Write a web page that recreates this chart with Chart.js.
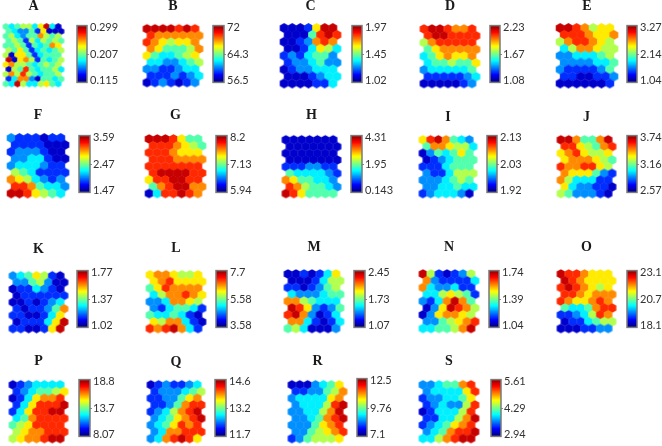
<!DOCTYPE html>
<html>
<head>
<meta charset="utf-8">
<title>SOM component planes</title>
<script src="https://cdn.jsdelivr.net/npm/chart.js@4/dist/chart.umd.min.js"></script>
<style>
  html, body { margin: 0; padding: 0; background: #fff; }
  #page { position: relative; width: 662px; height: 446px; overflow: hidden; }
  canvas { position: absolute; filter: blur(0.45px); }
</style>
</head>
<body>
<div id="page"></div>
<script>
// Each map is read row by row from the top, as a position on the colour bar (0 = navy ... 9 = dark red)
const levelsA = [
  4,3,4,5,5,3,6,9,3,0,
  4,3,2,2,4,1,6,0,0,0,
  4,5,3,2,4,4,7,5,4,5,
  4,5,4,1,5,3,5,4,5,4,
  4,4,5,4,1,4,3,4,7,6,
  5,4,6,4,1,3,4,3,4,5,
  5,0,6,6,4,1,3,4,4,4,
  9,0,6,7,5,1,4,3,4,5,
  6,7,5,5,4,3,4,5,4,5,
  0,5,4,8,4,3,4,4,5,3,
  5,7,5,8,5,4,3,4,4,5,
  1,3,7,7,2,0,4,4,3,4,
  4,3,9,5,3,3,5,6,4,3
];
const levelsB = [
  9,9,9,9,8,9,8,
  8,7,7,7,7,7,7,
  8,7,6,5,6,6,7,
  7,6,4,4,4,5,7,
  6,4,3,3,4,5,6,
  3,3,2,2,3,4,5,
  2,2,1,1,2,3,3,
  1,1,1,2,1,2,3,
  0,1,2,1,0,1,2
];
const levelsC = [
  0,0,0,1,6,9,9,
  0,0,0,4,8,9,8,
  0,0,1,2,7,8,7,
  0,0,1,3,6,5,3,
  1,2,1,3,4,4,2,
  1,2,2,3,4,2,2,
  0,1,2,2,3,3,3,
  0,0,0,1,2,3,3,
  0,0,0,0,1,1,3
];
const levelsD = [
  8,9,9,8,7,7,8,
  8,9,9,8,8,8,8,
  5,7,8,8,8,8,8,
  4,6,7,7,7,7,7,
  3,4,6,7,6,6,7,
  3,4,4,5,4,4,6,
  2,3,3,3,3,3,4,
  1,1,1,1,1,2,3,
  0,0,0,0,0,1,2
];
const levelsE = [
  9,9,8,7,5,6,6,
  8,8,8,7,6,6,7,
  5,7,8,8,7,6,5,
  3,5,7,7,6,5,5,
  2,2,3,3,3,4,5,
  2,2,2,2,3,3,4,
  2,1,1,1,1,2,4,
  1,1,0,0,1,1,2,
  0,0,0,0,0,0,1
];
const levelsF = [
  2,1,1,1,0,1,1,
  1,1,1,1,0,0,0,
  1,2,2,2,1,0,0,
  2,2,3,3,1,0,0,
  2,3,3,3,2,1,1,
  5,4,3,1,1,1,1,
  7,6,5,3,2,1,2,
  8,8,7,4,3,3,2,
  9,9,8,6,5,4,3
];
const levelsG = [
  9,9,9,8,6,4,4,
  8,8,8,7,6,5,4,
  8,8,8,7,6,6,6,
  8,8,8,7,7,7,7,
  8,8,8,8,8,8,8,
  8,9,9,9,9,8,8,
  6,8,8,9,9,8,8,
  4,7,8,9,9,7,7,
  0,3,8,8,9,8,7
];
const levelsH = [
  0,0,0,0,0,0,0,
  0,0,0,0,0,0,0,
  0,0,0,0,0,0,0,
  0,0,0,0,0,0,0,
  1,1,1,2,2,1,1,
  4,3,3,3,3,2,1,
  7,6,4,4,3,3,2,
  8,7,5,4,4,3,2,
  9,8,6,4,4,4,4
];
const levelsI = [
  6,8,9,7,4,3,2,
  4,7,7,6,5,5,3,
  0,2,4,3,4,6,4,
  0,1,2,3,4,4,4,
  1,1,1,3,4,4,4,
  2,1,1,3,5,5,5,
  2,2,2,3,4,5,4,
  2,2,3,3,4,3,3,
  1,2,3,3,3,2,0
];
const levelsJ = [
  9,9,7,4,4,7,9,
  8,8,6,5,4,7,8,
  6,7,8,6,5,5,6,
  6,7,7,7,6,5,4,
  8,7,7,8,8,6,5,
  7,6,6,6,4,2,1,
  7,5,3,3,3,1,1,
  6,3,2,2,1,1,0,
  5,4,2,2,2,1,0
];
const levelsK = [
  2,3,4,6,5,1,0,
  2,2,4,5,2,0,0,
  0,1,1,3,2,1,0,
  0,1,1,1,1,1,1,
  0,0,1,0,1,2,3,
  1,0,1,1,2,4,7,
  1,1,0,0,1,3,6,
  0,1,1,1,3,6,9,
  1,1,0,0,1,6,9
];
const levelsL = [
  6,7,7,6,5,5,6,
  6,7,8,6,6,6,6,
  4,6,8,7,7,7,7,
  3,5,7,7,8,7,6,
  2,2,3,7,7,6,5,
  2,1,3,4,4,3,1,
  4,3,3,4,3,1,0,
  6,5,7,7,3,1,0,
  8,7,8,9,7,3,1
];
const levelsM = [
  0,0,1,0,1,3,6,
  0,0,0,1,3,5,5,
  1,1,0,1,2,4,5,
  3,2,2,2,3,4,4,
  7,7,5,4,3,3,3,
  9,8,6,2,1,2,4,
  8,9,7,2,0,1,3,
  7,7,3,1,0,1,3,
  4,5,3,0,0,0,2
];
const levelsN = [
  9,5,1,0,1,2,5,
  7,2,1,1,1,1,3,
  7,3,2,2,3,1,1,
  3,3,5,6,5,4,1,
  2,1,3,7,9,7,4,
  0,2,6,9,8,7,5,
  0,2,6,7,7,6,5,
  2,2,4,5,6,7,8,
  3,3,4,4,5,7,9
];
const levelsO = [
  9,8,8,7,6,6,6,
  9,8,7,6,6,6,6,
  8,9,8,7,6,5,6,
  8,8,7,6,7,7,7,
  8,7,6,6,7,8,7,
  4,3,3,4,7,8,8,
  1,1,2,3,5,8,7,
  0,1,1,3,4,5,5,
  0,0,0,1,1,2,2
];
const levelsP = [
  0,1,2,3,3,3,3,
  1,2,3,4,4,5,6,
  0,1,3,6,7,7,8,
  1,3,6,8,8,8,9,
  1,3,6,8,8,9,9,
  3,4,7,8,8,8,8,
  4,5,6,8,8,8,8,
  5,6,7,7,8,8,8,
  5,6,7,7,8,9,9
];
const levelsQ = [
  0,1,2,1,1,2,3,
  1,2,2,2,3,4,5,
  1,1,2,2,4,6,7,
  1,1,2,4,7,8,8,
  1,2,3,5,7,8,9,
  2,3,4,6,7,8,9,
  2,3,4,6,8,7,8,
  2,3,7,7,8,8,8,
  2,3,7,8,9,8,6
];
const levelsR = [
  0,0,0,2,3,4,6,
  1,1,2,2,4,5,7,
  2,3,3,3,3,6,7,
  2,3,3,3,5,8,9,
  2,2,3,3,5,7,9,
  2,2,3,4,7,8,9,
  2,2,2,4,6,7,8,
  2,2,4,5,6,7,8,
  1,2,4,5,5,5,6
];
const levelsS = [
  2,2,3,4,4,7,8,
  2,3,3,3,3,6,8,
  1,2,2,3,3,4,6,
  1,2,3,2,2,5,8,
  0,1,3,3,3,5,8,
  1,1,3,3,5,7,9,
  1,2,3,4,6,7,8,
  2,3,4,7,8,8,9,
  3,3,5,7,8,9,9
];

// colour bar labels, top / middle / bottom
const ticksA = ["0.299", "0.207", "0.115"];
const ticksB = ["72", "64.3", "56.5"];
const ticksC = ["1.97", "1.45", "1.02"];
const ticksD = ["2.23", "1.67", "1.08"];
const ticksE = ["3.27", "2.14", "1.04"];
const ticksF = ["3.59", "2.47", "1.47"];
const ticksG = ["8.2", "7.13", "5.94"];
const ticksH = ["4.31", "1.95", "0.143"];
const ticksI = ["2.13", "2.03", "1.92"];
const ticksJ = ["3.74", "3.16", "2.57"];
const ticksK = ["1.77", "1.37", "1.02"];
const ticksL = ["7.7", "5.58", "3.58"];
const ticksM = ["2.45", "1.73", "1.07"];
const ticksN = ["1.74", "1.39", "1.04"];
const ticksO = ["23.1", "20.7", "18.1"];
const ticksP = ["18.8", "13.7", "8.07"];
const ticksQ = ["14.6", "13.2", "11.7"];
const ticksR = ["12.5", "9.76", "7.1"];
const ticksS = ["5.61", "4.29", "2.94"];

// layout: [letter, levels, ticks, cols, hexLeft, hexRight, hexTop, hexBottom, barLeft, barRight, barTop, barBottom, titleY]
const layout = [
  ["A", levelsA, ticksA, 10, 3, 64, 23, 87, 77, 87, 20, 88, 6],
  ["B", levelsB, ticksB, 7, 143, 203, 24, 87, 213, 224, 20, 88, 6],
  ["C", levelsC, ticksC, 7, 280, 341, 23, 88, 352, 362, 20, 88, 6],
  ["D", levelsD, ticksD, 7, 420, 480, 24, 88, 490, 500, 20, 88, 6],
  ["E", levelsE, ticksE, 7, 556, 618, 23, 88, 627, 637, 20, 88, 6],
  ["F", levelsF, ticksF, 7, 7, 69, 133, 198, 79, 90, 130, 198, 115],
  ["G", levelsG, ticksG, 7, 145, 206, 134, 198, 216, 227, 130, 198, 115],
  ["H", levelsH, ticksH, 7, 282, 341, 135, 198, 351, 362, 130, 198, 115],
  ["I", levelsI, ticksI, 7, 419, 477, 135, 198, 487, 497, 130, 198, 117],
  ["J", levelsJ, ticksJ, 7, 557, 616, 135, 198, 627, 637, 130, 198, 117],
  ["K", levelsK, ticksK, 7, 9, 68, 271, 333, 77, 88, 265, 333, 249],
  ["L", levelsL, ticksL, 7, 146, 206, 270, 333, 216, 227, 265, 333, 248],
  ["M", levelsM, ticksM, 7, 284, 344, 269, 333, 354, 365, 265, 333, 247],
  ["N", levelsN, ticksN, 7, 419, 479, 269, 333, 489, 499, 265, 333, 247],
  ["O", levelsO, ticksO, 7, 557, 616, 269, 333, 627, 637, 265, 333, 247],
  ["P", levelsP, ticksP, 7, 9, 68, 380, 443, 79, 90, 374, 442, 361],
  ["Q", levelsQ, ticksQ, 7, 147, 205, 380, 443, 215, 226, 374, 442, 362],
  ["R", levelsR, ticksR, 7, 288, 347, 380, 443, 357, 367, 373, 442, 361],
  ["S", levelsS, ticksS, 7, 419, 479, 380, 443, 491, 501, 374, 442, 361]
];

const page = document.getElementById("page");
const barSlices = 64;
const labelFont = { family: "Lato", size: 11 };

// matlab style jet colour map, t in 0..1
function jet(t) {
  const part = c => Math.round(255 * Math.max(0, Math.min(1, 1.5 - Math.abs(4 * t - c))));
  return "rgb(" + part(3) + "," + part(2) + "," + part(1) + ")";
}

// hexagon sprite used as the point style
function hexSprite(color, w, h) {
  const c = document.createElement("canvas");
  c.width = Math.ceil(w) + 4;
  c.height = Math.ceil(h) + 4;
  const g = c.getContext("2d");
  g.translate(c.width / 2, c.height / 2);
  g.beginPath();
  g.moveTo(0, -h / 2);
  g.lineTo(w / 2, -h / 4);
  g.lineTo(w / 2, h / 4);
  g.lineTo(0, h / 2);
  g.lineTo(-w / 2, h / 4);
  g.lineTo(-w / 2, -h / 4);
  g.closePath();
  g.fillStyle = color;
  g.fill();
  return c;
}

function addCanvas(left, top, width, height) {
  const c = document.createElement("canvas");
  c.width = width;
  c.height = height;
  c.style.left = left + "px";
  c.style.top = top + "px";
  page.appendChild(c);
  return c;
}

function drawMap(p) {
  const [letter, levels, , cols, hexLeft, hexRight, hexTop, hexBottom, , , , , titleY] = p;
  const rows = levels.length / cols;
  const hexW = (hexRight - hexLeft) / (cols + 0.5);
  const hexH = (hexBottom - hexTop) / (rows + 1 / 3) / 0.75;
  const points = levels.map((level, i) => {
    const row = Math.floor(i / cols);
    return { x: i % cols + (row % 2 ? 0.5 : 0), y: row };
  });
  const titleLine = 14 * 1.2;
  const canvasTop = titleY - titleLine / 2;
  const canvas = addCanvas(hexLeft - 3, canvasTop, hexRight - hexLeft + 6, hexBottom + 3 - canvasTop);
  new Chart(canvas, {
    type: "scatter",
    data: {
      datasets: [{
        data: points,
        clip: false,
        pointRadius: 4,
        pointStyle: levels.map(level => hexSprite(jet(0.075 + level * 0.095), hexW + 0.6, hexH + 0.6))
      }]
    },
    options: {
      responsive: false,
      animation: false,
      layout: { autoPadding: false, padding: { left: 3, right: 3, bottom: 3 } },
      plugins: {
        legend: { display: false },
        tooltip: { enabled: false },
        title: {
          display: true,
          text: letter,
          color: "#1a1a1a",
          font: { family: "Liberation Serif", size: 14, weight: "bold" },
          padding: { top: 0, bottom: hexTop - canvasTop - titleLine }
        }
      },
      scales: {
        x: { type: "linear", display: false, min: -0.5, max: cols },
        y: { type: "linear", display: false, reverse: true, min: -2 / 3, max: rows - 1 / 3 }
      }
    }
  });
}

// grey frame of the colour bar
const barFrame = {
  id: "barFrame",
  afterDatasetsDraw(chart) {
    const { left, top, width, height } = chart.chartArea;
    const g = chart.ctx;
    g.save();
    g.strokeStyle = "#7a7a7a";
    g.lineWidth = 1.5;
    g.strokeRect(left, top, width, height);
    g.restore();
  }
};

function drawBar(p) {
  const ticks = p[2];
  const [barLeft, barRight, barTop, barBottom] = p.slice(8, 12);
  const canvas = addCanvas(barLeft - 2, barTop - 2, barRight - barLeft + 44, barBottom - barTop + 4);
  const slices = [];
  for (let i = 0; i < barSlices; i++) {
    slices.push({
      data: [[i / barSlices, (i + 1.2) / barSlices]],
      backgroundColor: jet((i + 0.5) / barSlices),
      barPercentage: 1,
      categoryPercentage: 1,
      grouped: false
    });
  }
  // label rows sit a little inside the ends of the bar
  const tickSpots = [0.97, 0.49, 0.03];
  new Chart(canvas, {
    type: "bar",
    data: { labels: [""], datasets: slices },
    options: {
      responsive: false,
      animation: false,
      layout: { autoPadding: false, padding: { left: 2, top: 2, bottom: 2 } },
      plugins: { legend: { display: false }, tooltip: { enabled: false } },
      scales: {
        x: { display: false },
        y: {
          position: "right",
          min: 0,
          max: 1,
          border: { display: false },
          grid: { drawOnChartArea: false, tickLength: 2, tickColor: c => (c.index === 1 ? "#8a8a8a" : "transparent") },
          afterBuildTicks: scale => { scale.ticks = tickSpots.map(value => ({ value })); },
          afterFit: scale => { scale.width = 42; },
          ticks: {
            color: "#333",
            font: labelFont,
            padding: 1,
            autoSkip: false,
            maxRotation: 0,
            callback: (value, index) => ticks[index]
          }
        }
      }
    },
    plugins: [barFrame]
  });
}

layout.forEach(p => {
  drawMap(p);
  drawBar(p);
});
</script>
</body>
</html>
